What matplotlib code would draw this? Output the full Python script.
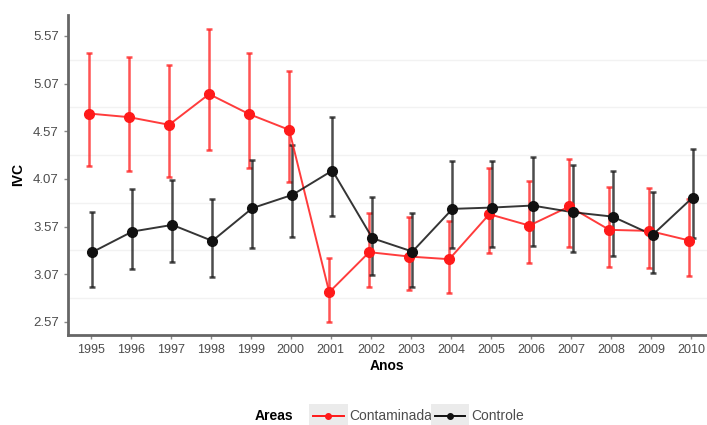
import numpy as np
import matplotlib.pyplot as plt
from matplotlib.legend_handler import HandlerLine2D
from matplotlib.lines import Line2D
from matplotlib.patches import Rectangle

plt.rcParams["font.family"] = ["Liberation Sans", "DejaVu Sans"]

anos = np.arange(1995, 2011)

# Contaminada (red): mean, upper and lower error limits
cont_mean = [4.755, 4.717, 4.637, 4.959, 4.749, 4.584, 2.881, 3.301,
             3.255, 3.227, 3.699, 3.580, 3.780, 3.535, 3.524, 3.423]
cont_hi = [5.395, 5.350, 5.266, 5.643, 5.395, 5.203, 3.244, 3.716,
           3.668, 3.632, 4.182, 4.049, 4.277, 3.989, 3.972, 3.860]
cont_lo = [4.200, 4.157, 4.094, 4.374, 4.182, 4.035, 2.573, 2.940,
           2.905, 2.870, 3.290, 3.185, 3.360, 3.143, 3.133, 3.052]

# Controle (black)
ctrl_mean = [3.301, 3.517, 3.587, 3.419, 3.763, 3.902, 4.157, 3.447,
             3.307, 3.755, 3.769, 3.790, 3.720, 3.674, 3.482, 3.874]
ctrl_hi = [3.720, 3.965, 4.060, 3.857, 4.270, 4.427, 4.717, 3.878,
           3.716, 4.252, 4.262, 4.294, 4.210, 4.154, 3.927, 4.385]
ctrl_lo = [2.934, 3.126, 3.196, 3.038, 3.349, 3.465, 3.682, 3.063,
           2.940, 3.343, 3.353, 3.367, 3.307, 3.265, 3.087, 3.447]

yticks = [2.57, 3.07, 3.57, 4.07, 4.57, 5.07, 5.57]

RED = "#ff1a1a"
BLK = "#111111"
dodge = 0.04


class KeyHandler(HandlerLine2D):
    # ggplot-style legend key with grey background
    def create_artists(self, legend, orig_handle, xdescent, ydescent,
                       width, height, fontsize, trans):
        bg = Rectangle((-xdescent - 3, -ydescent - 5), width + 6, height + 10,
                       facecolor="#ebebeb", edgecolor="none", transform=trans)
        arts = super().create_artists(legend, orig_handle, xdescent, ydescent,
                                      width, height, fontsize, trans)
        return [bg] + arts


fig = plt.figure(figsize=(7.07, 4.25), dpi=100)
ax = fig.add_axes([0.096, 0.212, 0.904, 0.753])

for mean, hi, lo, col, off in [(cont_mean, cont_hi, cont_lo, RED, -dodge),
                               (ctrl_mean, ctrl_hi, ctrl_lo, BLK, dodge)]:
    mean = np.array(mean)
    yerr = [mean - np.array(lo), np.array(hi) - mean]
    ax.errorbar(anos + off, mean, yerr=yerr, fmt="none", ecolor=col,
                elinewidth=1.8, capsize=2.2, capthick=1.8, alpha=0.75, zorder=2)
    ax.plot(anos + off, mean, color=col, lw=1.4, alpha=0.85, zorder=3)
    ax.plot(anos + off, mean, "o", color=col, ms=7, zorder=4)

ax.set_xlim(1994.43, 2010.4)
ax.set_ylim(2.433, 5.79)
ax.set_xticks(anos)
ax.set_yticks(yticks)
ax.set_yticklabels([f"{v:.2f}" for v in yticks])
ax.tick_params(axis="both", colors="#888888", length=3, width=1,
               labelcolor="#4d4d4d", labelsize=9)
ax.tick_params(axis="y", labelsize=9.5)

# faint minor grid between ticks
for v in np.array(yticks[:-1]) + 0.25:
    ax.axhline(v, color="#f2f2f2", lw=1, zorder=0)

for s in ["top", "right"]:
    ax.spines[s].set_visible(False)
for s in ["left", "bottom"]:
    ax.spines[s].set_color("#666666")
    ax.spines[s].set_linewidth(2)

ax.set_xlabel("Anos", fontsize=10, fontweight="bold", labelpad=2)
ax.set_ylabel("IVC", fontsize=10, fontweight="bold", labelpad=6)

fig.text(0.36, 0.02, "Areas", fontsize=10, fontweight="bold", va="center")
h1 = Line2D([], [], color=RED, marker="o", ms=4, lw=1.4)
h2 = Line2D([], [], color=BLK, marker="o", ms=4, lw=1.4)
fig.legend([h1, h2], ["Contaminada", "Controle"], ncol=2, frameon=False,
           loc="center left", bbox_to_anchor=(0.425, 0.02), fontsize=10,
           handlelength=2.2, handletextpad=0.4, columnspacing=0.2,
           handler_map={Line2D: KeyHandler()}, labelcolor="#4d4d4d")

fig.savefig("out.png", dpi=100)
